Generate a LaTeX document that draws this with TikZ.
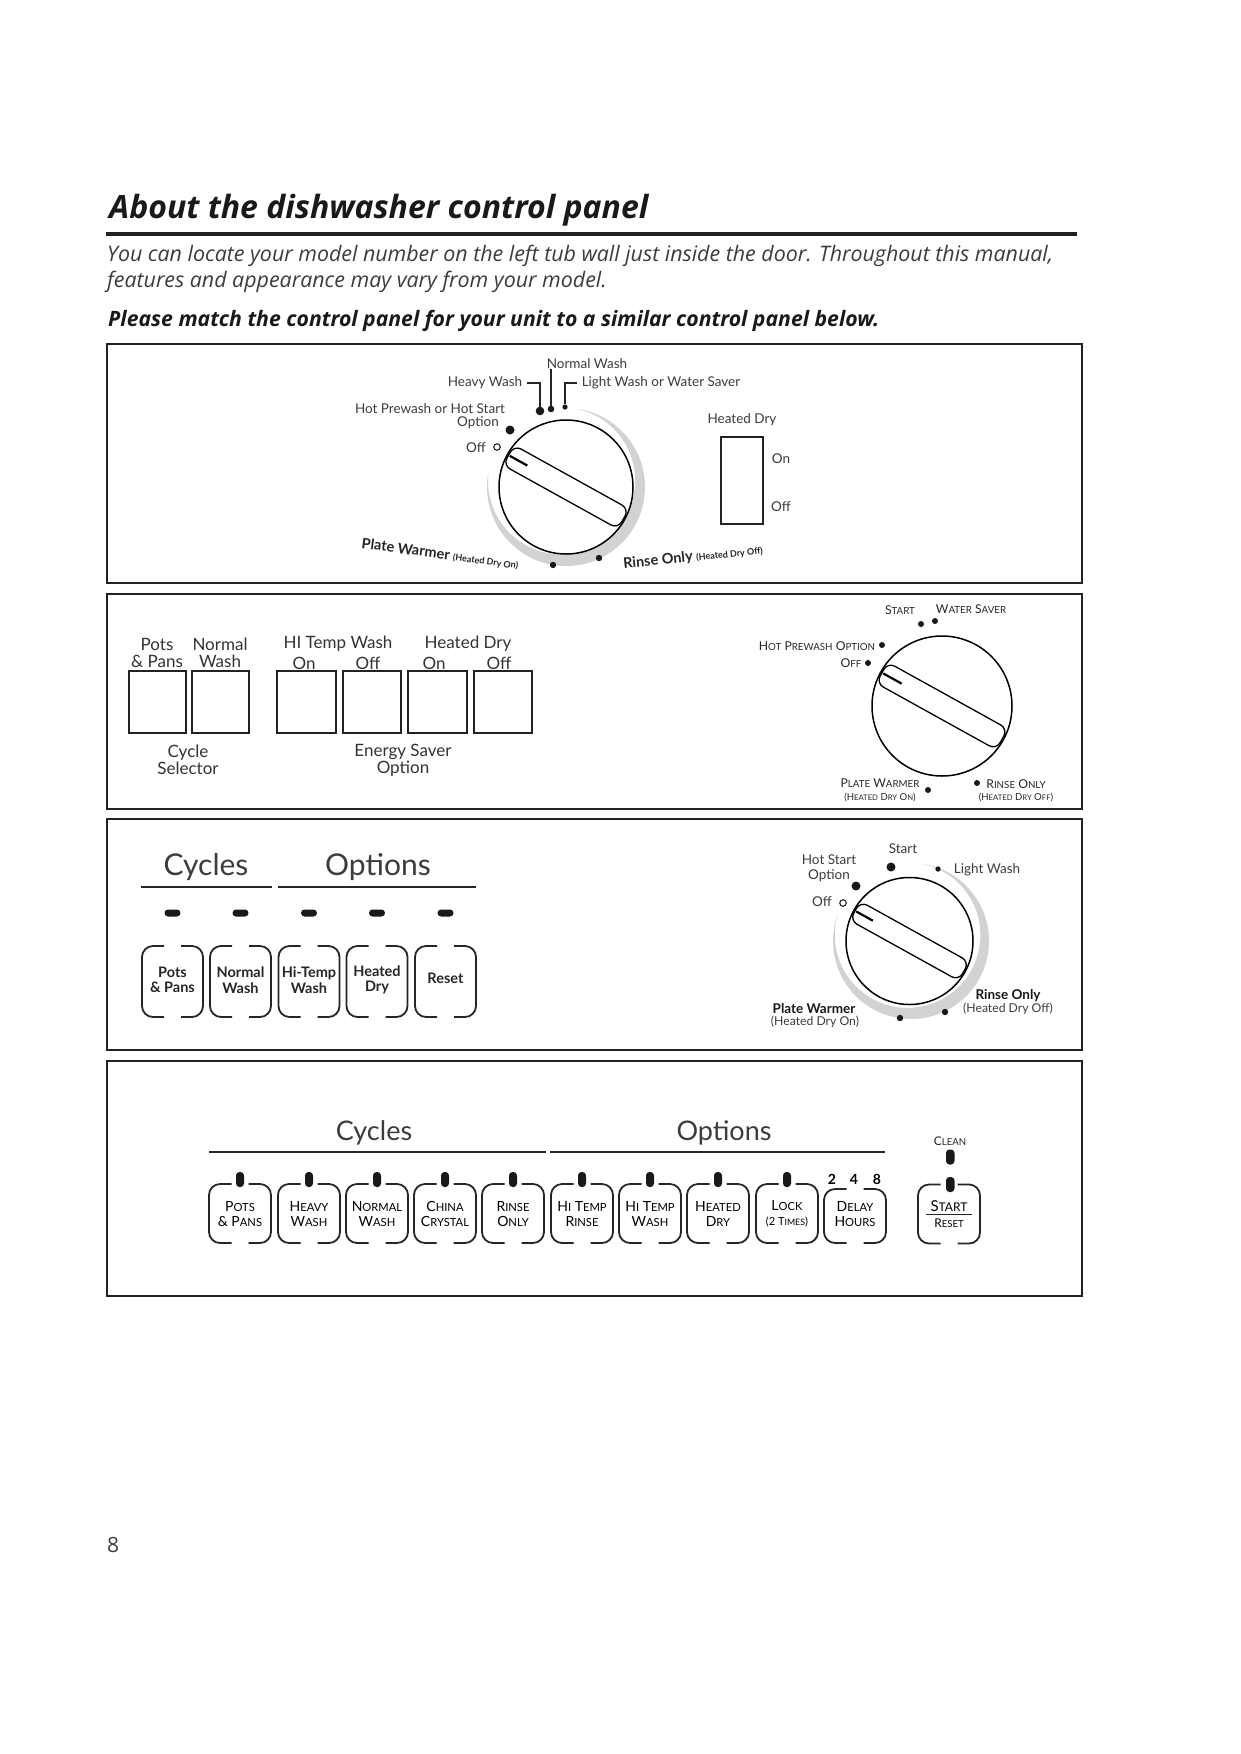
\documentclass[tikz,border=0pt]{standalone}
\usepackage{fontspec}
\setmainfont{Lato}
\newfontfamily\headfont{Open Sans}
\definecolor{inkGray}{HTML}{3C3C3C}
\definecolor{dialGray}{HTML}{D2D2D2}
\definecolor{frameBlack}{HTML}{222222}
\newcommand{\fsz}[1]{\fontsize{#1}{#1}\selectfont}
\newcommand{\smc}[2]{#1\scalebox{.8}{#2}}
\tikzset{
  panel/.style={draw=frameBlack,line width=1.6pt},
  lab/.style={inner sep=0pt,yshift=-1pt,text=inkGray,align=center,font=\fsz{13.5}},
  capslab/.style={lab,text=black!85,font=\fsz{12.2}},
  tinylab/.style={lab,text=black!85,font=\fsz{9.6}},
  keylab/.style={lab,text=black!80,font=\fsz{17}},
  btnlab/.style={lab,text=black!85,font=\fsz{14.5}\bfseries},
  rowlab/.style={lab,text=black,font=\fsz{14}},
  bighead/.style={lab,font=\fsz{30}},
  dot/.style={circle,fill=black!90,inner sep=0pt,minimum size=#1},
  hollow/.style={circle,draw=black!85,line width=1.1pt,fill=white,inner sep=0pt,minimum size=6.5pt},
  lead/.style={draw=black!85,line width=1.5pt},
  keybox/.style={draw=frameBlack,line width=1.3pt,minimum width=#1,minimum height=62pt,inner sep=0pt},
  pill/.style={fill=black!90,rounded corners=3.5pt},
  pics/knob/.style={code={
    \draw[black,line width=1.5pt,fill=white] (0,0) circle (#1);
    \begin{scope}[rotate=-29]
      \draw[black,line width=1.3pt,rounded corners=8pt] (-.98*#1,-.17*#1) rectangle (.98*#1,.17*#1);
      \draw[black,line width=2.2pt] (-.96*#1,0) -- (-.66*#1,0);
    \end{scope}
  }},
  pics/btn/.style n args={2}{code={
    \draw[black!85,line width=1.8pt,rounded corners=11pt] (-8.5,#2) -- (-#1,#2) -- (-#1,-#2) -- (-8.5,-#2);
    \draw[black!85,line width=1.8pt,rounded corners=11pt] (8.5,#2) -- (#1,#2) -- (#1,-#2) -- (8.5,-#2);
  }}
}

\begin{document}
\begin{tikzpicture}[x=1pt,y=1pt]
  \useasboundingbox[fill=white] (0,0) rectangle (1241,-1754);
  % page heading
  \node[anchor=west,inner sep=0pt,font=\headfont\fsz{32}\itshape\bfseries,text=black!90] (title) at (109,-210) {About the dishwasher control panel};
  \fill[frameBlack] (106,-231.5) rectangle (1077,-235.5);
  \node[anchor=west,inner sep=0pt,font=\headfont\fsz{21.4}\itshape,text=inkGray] (introa) at (107,-256) {You can locate your model number on the left tub wall just inside the door. Throughout this manual,};
  \node[anchor=west,inner sep=0pt,font=\headfont\fsz{21.4}\itshape,text=inkGray] (introb) at (107,-281.5) {features and appearance may vary from your model.};
  \node[anchor=west,inner sep=0pt,font=\headfont\fsz{21.2}\itshape\bfseries,text=black!90] (match) at (108,-320.5) {Please match the control panel for your unit to a similar control panel below.};
  \node[anchor=west,inner sep=0pt,font=\headfont\fsz{21},text=inkGray] (pageno) at (107,-1545) {8};
  % panel frames
  \draw[panel] (107,-344) rectangle (1082,-583);
  \draw[panel] (107,-594) rectangle (1082,-809);
  \draw[panel] (107,-819) rectangle (1082,-1050);
  \draw[panel] (107,-1061) rectangle (1082,-1296);

  % (1) rotary dial with rocker switch
  \fill[dialGray] (566,-487) ++(82:79) arc[start angle=82,end angle=-192,radius=79] arc[start angle=-188,end angle=78,radius=73.6] -- cycle;
  \pic at (566,-487) {knob=67};
  \node[dot=8.6pt] (dheavy) at (540,-411) {};
  \node[dot=6.6pt] (dnormal) at (551,-409) {};
  \node[dot=5.2pt] (dlight) at (565,-407) {};
  \node[dot=9pt] (dhot) at (510,-430) {};
  \node[hollow] (doff) at (497,-447) {};
  \node[dot=6.4pt] (dplate) at (553,-565) {};
  \node[dot=6.4pt] (drinse) at (599,-558) {};
  \node[lab] (lnormal) at (587,-363) {Normal Wash};
  \node[lab] (lheavy) at (485,-382) {Heavy Wash};
  \node[lab] (llight) at (661,-382) {Light Wash or Water Saver};
  \node[lab] (lhot) at (430,-408) {Hot Prewash or Hot Start};
  \node[lab] (lhotb) at (478,-422) {Option};
  \node[lab] (loff) at (476,-447) {Off};
  \node[lab,rotate=-7.5,text=black!85] (lplate) at (440,-553) {{\fsz{14.5}\bfseries Plate Warmer} {\fsz{9}\bfseries (Heated Dry On)}};
  \node[lab,rotate=6,text=black!85] (lrinse) at (693,-556) {{\fsz{14.5}\bfseries Rinse Only} {\fsz{9}\bfseries (Heated Dry Off)}};
  \draw[lead] ([xshift=5pt]lheavy.east) -| (dheavy);
  \draw[lead] (dnormal) -- (dnormal |- lnormal.south);
  \draw[lead] ([xshift=-5pt]llight.west) -| (dlight);
  \node[lab] (ldry) at (742,-419) {Heated Dry};
  \node[draw=frameBlack,line width=1.3pt,minimum width=42pt,minimum height=87pt,inner sep=0pt] (rocker) at (742,-480.5) {};
  \node[lab] (lon) at (781,-458) {On};
  \node[lab] (loffb) at (781,-506) {Off};

  % (2) square keys with plain dial
  \foreach \x/\w [count=\r from 1] in {157.5/57pt,220.5/57pt,306.5/59pt,372/58pt,437.5/59pt,503/58pt} {
    \node[keybox=\w] (key\r) at (\x,-702) {};
  }
  \node[keylab] (kpots) at (157,-652) {Pots\\\& Pans};
  \node[keylab] (knormal) at (220,-652) {Normal\\Wash};
  \node[keylab] (khi) at (338,-643) {HI Temp Wash};
  \node[keylab] (khion) at (304,-662) {On};
  \node[keylab] (khioff) at (368,-662) {Off};
  \node[keylab] (kdry) at (468,-643) {Heated Dry};
  \node[keylab] (kdryon) at (434,-662) {On};
  \node[keylab] (kdryoff) at (499,-662) {Off};
  \node[keylab] (kcycle) at (188,-759) {Cycle\\Selector};
  \node[keylab] (ksaver) at (403,-759) {Energy Saver\\Option};
  \pic at (942,-706) {knob=70};
  \foreach \x/\y [count=\r from 1] in {921/-624,935/-621,882/-645,868/-663,928/-790,977/-783} {
    \node[dot=6pt] (dtwo\r) at (\x,\y) {};
  }
  \node[capslab] (sstart) at (900,-609) {\smc{S}{TART}};
  \node[capslab] (swater) at (971,-608) {\smc{W}{ATER} \smc{S}{AVER}};
  \node[capslab] (shot) at (817,-645) {\smc{H}{OT} \smc{P}{REWASH} \smc{O}{PTION}};
  \node[capslab] (soff) at (851,-662) {\smc{O}{FF}};
  \node[capslab] (splate) at (880,-782) {\smc{P}{LATE} \smc{W}{ARMER}};
  \node[tinylab] (splateb) at (880,-796) {(\smc{H}{EATED} \smc{D}{RY} \smc{O}{N})};
  \node[capslab] (srinse) at (1016,-783) {\smc{R}{INSE} \smc{O}{NLY}};
  \node[tinylab] (srinseb) at (1016,-796) {(\smc{H}{EATED} \smc{D}{RY} \smc{O}{FF})};

  % (3) five bracket keys with dial
  \node[bighead] (hcycles) at (206,-866) {Cycles};
  \node[bighead] (hoptions) at (378,-866) {Options};
  \draw[black!85,line width=1.2pt] (141,-887) -- (272,-887);
  \draw[black!85,line width=1.2pt] (278,-887) -- (476,-887);
  \foreach \x/\ty/\txt [count=\r from 1] in {172.5/-979/{Pots\\[1pt]\& Pans},240.5/-979/{Normal\\[1pt]Wash},309/-979/{Hi-Temp\\[1pt]Wash},377/-979/{Heated\\[1pt]Dry},445.5/-977/Reset} {
    \fill[pill] (\x-8,-909.5) rectangle (\x+8,-916.5);
    \pic at (\x,-981.5) {btn={30.5}{35.5}};
    \node[btnlab] (bthree\r) at (\x,\ty) {\txt};
  }
  \fill[dialGray] (911,-941) ++(82:78) arc[start angle=82,end angle=-201,radius=78] arc[start angle=-197.6,end angle=78.6,radius=72.8] -- cycle;
  \pic at (909.5,-941) {knob=63.5};
  \node[dot=9pt] (dstart) at (891,-867) {};
  \node[dot=9pt] (dhotc) at (856,-886) {};
  \node[hollow] (doffc) at (843,-903) {};
  \node[dot=5.4pt] (dlightc) at (938,-869) {};
  \node[dot=6.4pt] (dplatec) at (900,-1018) {};
  \node[dot=6.4pt] (drinsec) at (945,-1012) {};
  \node[lab] (tstart) at (903,-848) {Start};
  \node[lab] (thot) at (829,-867.5) {Hot Start\\[1pt]Option};
  \node[lab] (toff) at (822,-901) {Off};
  \node[lab] (tlight) at (987,-869) {Light Wash};
  \node[lab,text=black!90,font=\fsz{13.5}\bfseries] (tplate) at (814,-1008) {Plate Warmer};
  \node[lab,font=\fsz{12.2}] (tplateb) at (815,-1021) {(Heated Dry On)};
  \node[lab,text=black!90,font=\fsz{13.5}\bfseries] (trinse) at (1008,-995) {Rinse Only};
  \node[lab,font=\fsz{12.2}] (trinseb) at (1008,-1008) {(Heated Dry Off)};

  % (4) ten keys with start key
  \node[bighead,font=\fsz{27}] (hcyclesd) at (374,-1131.5) {Cycles};
  \node[bighead,font=\fsz{27}] (hoptionsd) at (724,-1131.5) {Options};
  \draw[black!85,line width=1.2pt] (209,-1152) -- (546,-1152);
  \draw[black!85,line width=1.2pt] (550,-1152) -- (885,-1152);
  \foreach \x/\txt [count=\r from 1] in {
    240/{\smc{P}{OTS}\\[1pt]\smc{\&}{} \smc{P}{ANS}},
    309/{\smc{H}{EAVY}\\[1pt]\smc{W}{ASH}},
    377/{\smc{N}{ORMAL}\\[1pt]\smc{W}{ASH}},
    445/{\smc{C}{HINA}\\[1pt]\smc{C}{RYSTAL}},
    513/{\smc{R}{INSE}\\[1pt]\smc{O}{NLY}},
    582/{\smc{H}{I} \smc{T}{EMP}\\[1pt]\smc{R}{INSE}},
    650/{\smc{H}{I} \smc{T}{EMP}\\[1pt]\smc{W}{ASH}},
    718/{\smc{H}{EATED}\\[1pt]\smc{D}{RY}},
    787/{\smc{L}{OCK}\\[1pt]{\fsz{11}(\smc{2}{} \smc{T}{IMES})}}} {
    \pic at (\x,-1213.5) {btn={31}{29.5}};
    \fill[pill] (\x-4,-1172) rectangle (\x+4,-1187);
    \node[rowlab] (bfour\r) at (\x,-1213) {\txt};
  }
  \pic at (855,-1216) {btn={31}{27}};
  \node[rowlab] (bdelay) at (855,-1213) {\smc{D}{ELAY}\\[1pt]\smc{H}{OURS}};
  \node[lab,text=black,font=\fsz{14}\bfseries] (htwo) at (832,-1178) {2};
  \node[lab,text=black,font=\fsz{14}\bfseries] (hfour) at (854,-1178) {4};
  \node[lab,text=black,font=\fsz{14}\bfseries] (height) at (877,-1178) {8};
  \pic at (949,-1214) {btn={31}{29.5}};
  \fill[pill] (946,-1149.5) rectangle (954.5,-1164.5);
  \fill[pill] (946,-1177) rectangle (954.5,-1192);
  \node[capslab,font=\fsz{12}] (lclean) at (950,-1140) {\smc{C}{LEAN}};
  \node[rowlab,font=\fsz{15}] (lstart) at (949,-1205) {\smc{S}{TART}};
  \node[rowlab,font=\fsz{12}] (lreset) at (949,-1222.5) {\smc{R}{ESET}};
  \draw[black!85,line width=1pt] (926,-1214) -- (972,-1214);
\end{tikzpicture}
\end{document}
